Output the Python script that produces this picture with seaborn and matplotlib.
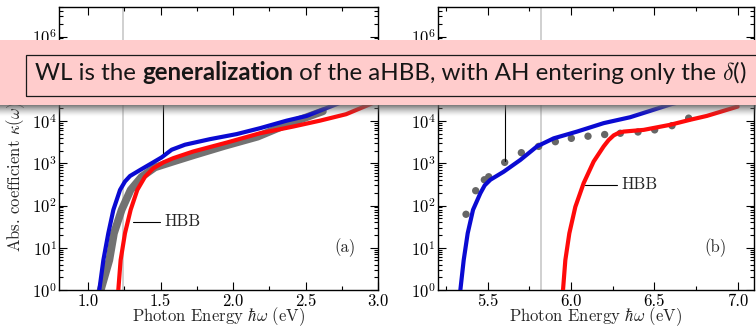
import numpy as np
import matplotlib
matplotlib.use("Agg")
import matplotlib.pyplot as plt
import seaborn as sns
from matplotlib.ticker import LogLocator, MultipleLocator, NullFormatter, FormatStrFormatter
from matplotlib.patches import Rectangle

# ---- panel (a): photon energy (eV) and absorption coefficient kappa ----
energy_a_wl = [1.066, 1.078, 1.106, 1.140, 1.175, 1.221, 1.255, 1.290, 1.359, 1.439, 1.508,
               1.577, 1.669, 1.841, 2.025, 2.186, 2.370, 2.508, 2.70, 3.00]
kappa_a_wl = [0.6, 1.0, 5.1, 22, 79, 234, 370, 500, 692, 1000, 1380,
              2090, 2750, 3720, 4900, 6760, 10200, 13200, 24000, 60000]

energy_a_hbb = [1.200, 1.209, 1.225, 1.255, 1.294, 1.340, 1.393, 1.450, 1.520, 1.588, 1.726,
                1.957, 2.186, 2.416, 2.600, 2.780, 3.00]
kappa_a_hbb = [0.6, 1.0, 5.1, 22, 79, 234, 479, 760, 1050, 1320, 1900,
               3090, 5130, 7410, 10200, 14500, 30000]

energy_a_exp = [1.076, 1.088, 1.147, 1.179, 1.232, 1.294, 1.370, 1.462, 1.588, 1.735,
                1.940, 2.170, 2.400, 2.490, 2.62]
kappa_a_exp = [0.6, 1.0, 5.1, 22, 79, 234, 479, 800, 1100, 1580,
               2570, 4270, 9100, 11700, 17000]

# ---- panel (b) ----
energy_b_wl = [5.330, 5.336, 5.356, 5.380, 5.412, 5.456, 5.482, 5.516, 5.596, 5.696, 5.796,
               5.896, 6.036, 6.196, 6.355, 6.60, 7.00]
kappa_b_wl = [0.6, 1.0, 5.1, 22, 79, 195, 300, 407, 631, 1200, 2510,
              3890, 5620, 8910, 12300, 25000, 60000]

energy_b_hbb = [5.946, 5.952, 5.966, 5.990, 6.026, 6.076, 6.136, 6.196, 6.226, 6.256, 6.286,
                6.316, 6.436, 6.595, 6.715, 6.815, 7.00]
kappa_b_hbb = [0.6, 1.0, 5.1, 22, 93, 339, 1100, 2510, 3550, 4570, 5250,
               5620, 6170, 8130, 10700, 13200, 22000]

energy_b_exp = [5.370, 5.428, 5.480, 5.506, 5.602, 5.702, 5.806, 5.906, 6.002, 6.102,
                6.202, 6.296, 6.402, 6.502, 6.606, 6.706]
kappa_b_exp = [62, 224, 407, 479, 1050, 1780, 2510, 3240, 3890, 4370,
               4790, 5130, 5500, 6170, 7760, 11700]

# reference energies (thin grey lines)
gap_a = 1.239
gap_b = 5.822

# label pointers: (x, y_start) of the vertical leaders, HBB leader (x0, x1, y, text x)
leader_a = (1.519, 1740)
leader_b = (5.602, 1130)
hbb_a = (1.312, 1.497, 41.6, 1.524)
hbb_b = (6.085, 6.276, 309, 6.300)

BLUE = "#0a0ad2"
RED = "#ff0a0a"
GREY = "#727272"
FS = 12

sns.set_style("ticks")
plt.rcParams.update({
    "font.family": ["cmr10", "DejaVu Serif"],
    "mathtext.fontset": "cm",
    "axes.formatter.use_mathtext": True,
    "axes.linewidth": 1.0,
    "axes.edgecolor": "black",
    "xtick.color": "black",
    "ytick.color": "black",
})

W, H = 756, 326
fig = plt.figure(figsize=(W / 100, H / 100), dpi=100)
fig.patch.set_facecolor("white")

ax_a = fig.add_axes([59 / W, 1 - 290 / H, 319 / W, 283 / H])
ax_b = fig.add_axes([437.7 / W, 1 - 290 / H, 316.6 / W, 283 / H])


def style_axes(ax, xlim):
    ax.set_yscale("log")
    ax.set_ylim(1, 5e6)
    ax.set_xlim(*xlim)
    ax.xaxis.set_major_locator(MultipleLocator(0.5))
    ax.xaxis.set_minor_locator(MultipleLocator(0.25))
    ax.xaxis.set_major_formatter(FormatStrFormatter("%.1f"))
    ax.yaxis.set_major_locator(LogLocator(base=10, numticks=12))
    ax.yaxis.set_minor_locator(LogLocator(base=10, subs=np.arange(2, 10), numticks=12))
    ax.yaxis.set_minor_formatter(NullFormatter())
    ax.tick_params(which="both", direction="in", top=True, right=True,
                   labelsize=FS, width=0.8)
    ax.tick_params(which="major", length=6)
    ax.tick_params(which="minor", length=3)
    ax.tick_params(axis="x", which="major", pad=2.5)
    ax.tick_params(axis="y", which="major", pad=1.5)
    for s in ax.spines.values():
        s.set_linewidth(1.0)
        s.set_visible(True)


def draw_panel(ax, gap, e_exp, k_exp, e_hbb, k_hbb, e_wl, k_wl, band, leader, hbb, tag):
    ax.axvline(gap, color="#c4c4c4", lw=1.1, zorder=0.5)
    if band:
        sns.lineplot(x=e_exp, y=k_exp, ax=ax, color=GREY, lw=5.6, sort=False,
                     estimator=None, zorder=2)
    else:
        sns.scatterplot(x=e_exp, y=k_exp, ax=ax, color="#666666", s=28, edgecolor="none",
                        zorder=2)
    sns.lineplot(x=e_hbb, y=k_hbb, ax=ax, color=RED, lw=3.0, sort=False,
                 estimator=None, zorder=3)
    sns.lineplot(x=e_wl, y=k_wl, ax=ax, color=BLUE, lw=3.0, sort=False,
                 estimator=None, zorder=4)
    ax.plot([leader[0], leader[0]], [leader[1], 2e5], color="black", lw=0.8, zorder=5)
    ax.plot([hbb[0], hbb[1]], [hbb[2], hbb[2]], color="black", lw=0.8, zorder=5)
    ax.text(hbb[3], hbb[2], "HBB", fontsize=FS, va="center", ha="left", zorder=5)
    ax.text(tag[1], 0.148, tag[0], transform=ax.transAxes, fontsize=FS,
            ha="center", va="center")
    ax.set_ylabel("")
    ax.set_xlabel(r"Photon Energy $\hbar\omega$ (eV)", fontsize=FS)
    ax.xaxis.label.set_va("baseline")
    ax.xaxis.set_label_coords(0.5, -(321 - 290) / 283)


style_axes(ax_a, (0.8, 3.0))
style_axes(ax_b, (5.2, 7.1))
draw_panel(ax_a, gap_a, energy_a_exp, kappa_a_exp, energy_a_hbb, kappa_a_hbb,
           energy_a_wl, kappa_a_wl, True, leader_a, hbb_a, ("(a)", 0.897))
draw_panel(ax_b, gap_b, energy_b_exp, kappa_b_exp, energy_b_hbb, kappa_b_hbb,
           energy_b_wl, kappa_b_wl, False, leader_b, hbb_b, ("(b)", 0.879))
ax_a.set_ylabel(r"Abs. coefficient $\kappa(\omega)$ (cm$^{-1}$)", fontsize=FS)
ax_a.yaxis.label.set_va("center")
ax_a.yaxis.set_label_coords(-(59 - 16) / 319, 0.5)

# ---- callout banner laid over the top of both panels ----
band_top, band_bot = 40, 105
fig.add_artist(Rectangle((0, 1 - band_bot / H), 1, (band_bot - band_top) / H,
                         transform=fig.transFigure, facecolor="#ffcccc",
                         edgecolor="none", zorder=10))
fig.add_artist(Rectangle((26 / W, 1 - 96 / H), 800 / W, 41 / H,
                         transform=fig.transFigure, fill=False,
                         edgecolor="#1a1a1a", lw=0.9, zorder=11))

# soft drop shadow under the banner
ax_sh = fig.add_axes([0, 1 - 117 / H, 1, 12 / H], zorder=9)
ramp = np.linspace(0, 1, 40)
shade = np.zeros((40, 2, 4))
shade[..., :3] = 0.38
shade[..., 3] = (0.85 * (1 - ramp) ** 1.5)[:, None]
ax_sh.imshow(shade, aspect="auto", extent=(0, 1, 0, 1), interpolation="bilinear")
ax_sh.set_axis_off()

pieces = [("WL is the ", "normal"),
          ("generalization", "bold"),
          (" of the aHBB, with AH entering only the ", "normal"),
          (r"$\delta$()", "normal")]
x0_px, base_px, target_w = 35, 80, 717
renderer = fig.canvas.get_renderer()
texts = [fig.text(0, 0, s, fontsize=16, fontweight=w, family=["Lato", "DejaVu Sans"],
                  color="#161616", va="baseline", ha="left", zorder=12)
         for s, w in pieces]
total = sum(t.get_window_extent(renderer).width for t in texts)
size = 16 * target_w / total
for t in texts:
    t.set_fontsize(size)
x = x0_px
for t in texts:
    t.set_position((x / W, 1 - base_px / H))
    x += t.get_window_extent(renderer).width

fig.savefig("out.png", dpi=100)
